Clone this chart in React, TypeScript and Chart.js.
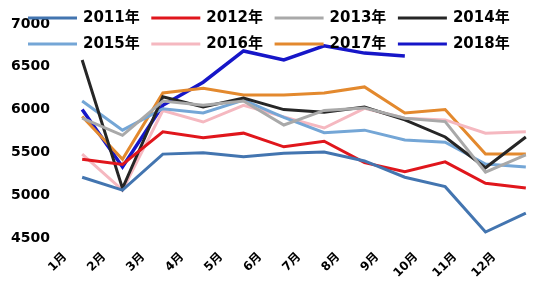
import React, { useEffect, useRef } from "react";
import { Chart, registerables } from "chart.js";

Chart.register(...registerables);

const months = ["1月", "2月", "3月", "4月", "5月", "6月", "7月", "8月", "9月", "10月", "11月", "12月"];
const yTicks = [4500, 5000, 5500, 6000, 6500, 7000];

const s2011 = [5210, 5060, 5480, 5495, 5450, 5490, 5505, 5400, 5210, 5100, 4570, 4790];
const s2012 = [5420, 5360, 5740, 5670, 5725, 5565, 5630, 5380, 5275, 5390, 5140, 5085];
const s2013 = [5900, 5700, 6100, 6050, 6100, 5820, 5990, 6020, 5900, 5860, 5270, 5470];
const s2014 = [6580, 5080, 6150, 6030, 6135, 6000, 5970, 6030, 5880, 5680, 5320, 5680];
const s2015 = [6100, 5760, 6010, 5960, 6110, 5910, 5730, 5760, 5645, 5620, 5365, 5330];
const s2016 = [5480, 5060, 5990, 5855, 6050, 5915, 5785, 6015, 5900, 5880, 5725, 5740];
const s2017 = [5920, 5420, 6195, 6250, 6170, 6170, 6195, 6265, 5960, 6000, 5480, 5480];
const s2018 = [6000, 5330, 6050, 6320, 6685, 6580, 6745, 6660, 6625];

const seriesNames = ["2011年", "2012年", "2013年", "2014年", "2015年", "2016年", "2017年", "2018年"];
const seriesData = [s2011, s2012, s2013, s2014, s2015, s2016, s2017, s2018];
const seriesColors = ["#4375B0", "#E0161C", "#A9A9A9", "#262626", "#74A6D6", "#F5B8C0", "#E3892E", "#1616C8"];
const seriesWidths = [3, 3, 3, 3, 3, 3, 3, 3.5];

const legendPlugin = {
  id: "customLegend",
  afterDraw(chart: any) {
    const ctx = chart.ctx;
    const ds = chart.data.datasets;
    ctx.save();
    ctx.font = "bold 15px 'DejaVu Sans', 'Noto Sans CJK SC', sans-serif";
    ctx.textBaseline = "middle";
    ctx.textAlign = "left";
    for (let i = 0; i < ds.length; i++) {
      const row = Math.floor(i / 4);
      const col = i % 4;
      const x0 = 28 + col * 123.3;
      const y = row === 0 ? 18 : 44;
      ctx.strokeStyle = ds[i].borderColor;
      ctx.lineWidth = 3;
      ctx.beginPath();
      ctx.moveTo(x0, y);
      ctx.lineTo(x0 + 49, y);
      ctx.stroke();
      ctx.fillStyle = "#000";
      ctx.fillText(ds[i].label, x0 + 55, y);
    }
    ctx.restore();
  },
};

export default function App() {
  const ref = useRef<HTMLCanvasElement>(null);
  useEffect(() => {
    if (!ref.current) return;
    const chart = new Chart(ref.current, {
      type: "line",
      data: {
        labels: months,
        datasets: seriesNames.map((n, i) => ({
          label: n,
          data: seriesData[i],
          borderColor: seriesColors[i],
          backgroundColor: seriesColors[i],
          borderWidth: seriesWidths[i],
          pointRadius: 0,
          tension: 0,
          fill: false,
        })),
      },
      options: {
        animation: false,
        responsive: false,
        layout: { padding: { top: 24, right: 4, left: 0, bottom: 0 } },
        plugins: { legend: { display: false }, tooltip: { enabled: false } },
        scales: {
          x: {
            offset: true,
            display: false,
          },
          xLabels: {
            type: "linear",
            position: "bottom",
            min: 0.923,
            max: 13.33,
            grid: { display: false, drawTicks: false },
            border: { display: false },
            afterBuildTicks: (s: any) => {
              s.ticks = months.map((_, i) => ({ value: i + 1 }));
            },
            ticks: {
              minRotation: 45,
              maxRotation: 45,
              autoSkip: false,
              padding: 12,
              color: "#000",
              callback: (v: any) => months[Math.round(Number(v)) - 1] ?? "",
              font: { family: "'DejaVu Sans', 'Noto Sans CJK SC', sans-serif", size: 12, weight: "bold" },
            },
            afterFit: (s: any) => {
              s.height = 62;
            },
          },
          y: {
            min: 4500,
            max: 7000,
            grid: { display: false, drawTicks: false },
            border: { display: false },
            afterBuildTicks: (s: any) => {
              s.ticks = yTicks.map((v) => ({ value: v }));
            },
            ticks: {
              padding: 12,
              color: "#000",
              callback: (v: any) => String(v),
              font: { family: "'DejaVu Sans', sans-serif", size: 14, weight: "bold" },
            },
            afterFit: (s: any) => {
              s.width = 62;
            },
          },
        },
      },
      plugins: [legendPlugin],
    });
    return () => chart.destroy();
  }, []);
  return (
    <div style={{ position: "absolute", left: 0, top: 0, width: 550, height: 300, background: "#fff" }}>
      <canvas ref={ref} width={550} height={300} />
    </div>
  );
}
